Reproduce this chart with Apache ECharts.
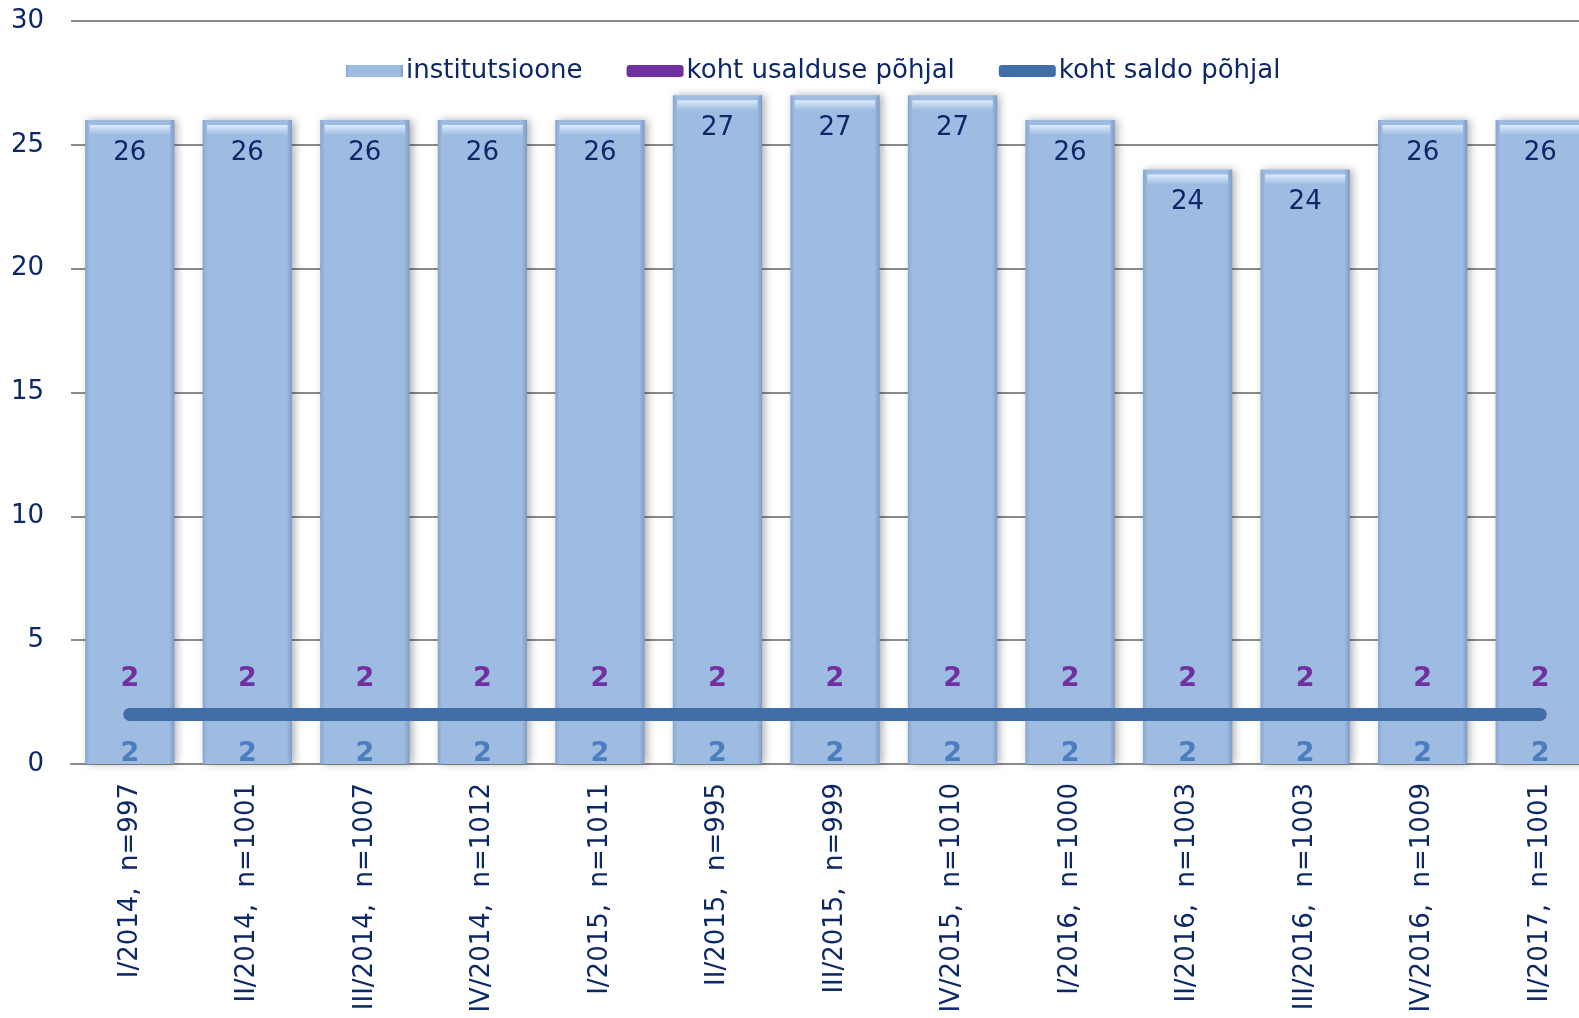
<!DOCTYPE html>
<html>
<head>
<meta charset="utf-8">
<script src="https://cdn.jsdelivr.net/npm/echarts@6/dist/echarts.min.js"></script>
<style>
  html, body { margin: 0; padding: 0; background: #fff; }
  #chart { width: 1579px; height: 1018px; }
</style>
</head>
<body>
<div id="chart"></div>
<script>
const categories = [
  "I/2014,  n=997", "II/2014,  n=1001", "III/2014,  n=1007", "IV/2014,  n=1012",
  "I/2015,  n=1011", "II/2015,  n=995", "III/2015,  n=999", "IV/2015,  n=1010",
  "I/2016,  n=1000", "II/2016,  n=1003", "III/2016,  n=1003", "IV/2016,  n=1009",
  "II/2017,  n=1001"
]
const institutsioone = [26, 26, 26, 26, 26, 27, 27, 27, 26, 24, 24, 26, 26]
const kohtUsaldus = [2, 2, 2, 2, 2, 2, 2, 2, 2, 2, 2, 2, 2]
const kohtSaldo = [2, 2, 2, 2, 2, 2, 2, 2, 2, 2, 2, 2, 2]
const yTicks = [0, 5, 10, 15, 20, 25, 30]

const textColor = "#0d2868"
const font = "DejaVu Sans"

const myChart = echarts.init(document.getElementById("chart"))

myChart.setOption({
  animation: false,
  textStyle: { fontFamily: font },
  legend: {
    left: 341,
    top: 53,
    itemGap: 44,
    itemWidth: 57,
    itemHeight: 12,
    textStyle: { fontSize: 26, color: textColor, fontFamily: font, padding: [0, 0, 0, -2] },
    data: [
      { name: "institutsioone", icon: "rect" },
      { name: "koht usalduse põhjal", icon: "roundRect" },
      { name: "koht saldo põhjal", icon: "roundRect" }
    ]
  },
  grid: {
    left: 71,
    top: 21,
    right: -20,
    height: 743,
    outerBoundsMode: "none",
    containLabel: false
  },
  xAxis: {
    type: "category",
    data: categories,
    axisLine: { lineStyle: { color: "#8a8a8a", width: 2 } },
    axisTick: { show: false },
    axisLabel: {
      rotate: 90,
      interval: 0,
      margin: 19,
      fontSize: 26,
      color: textColor,
      fontFamily: font
    }
  },
  yAxis: {
    type: "value",
    min: yTicks[0],
    max: yTicks[yTicks.length - 1],
    interval: 5,
    axisLine: { show: false },
    axisTick: { show: false },
    axisLabel: { fontSize: 26, color: textColor, margin: 27, fontFamily: font },
    splitLine: { lineStyle: { color: "#8a8a8a", width: 2 } }
  },
  series: [
    {
      name: "institutsioone",
      type: "bar",
      data: institutsioone,
      barCategoryGap: "24%",
      barGap: "-100%",
      label: {
        show: true,
        position: "insideTop",
        distance: 20,
        fontSize: 26,
        color: textColor,
        fontFamily: font
      },
      itemStyle: {
        color: {
          type: "linear", x: 0, y: 0, x2: 1, y2: 0,
          colorStops: [
            { offset: 0, color: "#86a5cf" },
            { offset: 0.05, color: "#9ebce2" },
            { offset: 0.94, color: "#9ebce2" },
            { offset: 1, color: "#7d9bc4" }
          ]
        },
        shadowBlur: 8,
        shadowOffsetX: 3,
        shadowColor: "rgba(0,0,0,0.3)"
      }
    },
    {
      // light bevel on top of each bar
      name: "bevel",
      type: "pictorialBar",
      data: institutsioone,
      barCategoryGap: "24%",
      barGap: "-100%",
      symbol: "rect",
      symbolPosition: "end",
      symbolSize: ["90%", 10],
      symbolOffset: [0, "50%"],
      silent: true,
      z: 3,
      itemStyle: {
        color: {
          type: "linear", x: 0, y: 0, x2: 0, y2: 1,
          colorStops: [
            { offset: 0, color: "#dcebf9" },
            { offset: 1, color: "#9ebce2" }
          ]
        }
      }
    },
    {
      name: "koht usalduse põhjal",
      type: "line",
      data: kohtUsaldus,
      symbol: "circle",
      symbolSize: 1,
      lineStyle: { color: "#7030a0", width: 12, cap: "round" },
      itemStyle: { color: "#7030a0" },
      z: 4,
      label: {
        show: true,
        position: "top",
        distance: 21,
        fontSize: 27,
        fontWeight: "bold",
        color: "#7030a0",
        fontFamily: font
      }
    },
    {
      name: "koht saldo põhjal",
      type: "line",
      data: kohtSaldo,
      symbol: "circle",
      symbolSize: 1,
      lineStyle: { color: "#416ea6", width: 13, cap: "round" },
      itemStyle: { color: "#416ea6" },
      z: 5,
      label: {
        show: true,
        position: "bottom",
        distance: 26,
        fontSize: 27,
        fontWeight: "bold",
        color: "#4a7ebf",
        fontFamily: font
      }
    }
  ]
})
</script>
</body>
</html>
